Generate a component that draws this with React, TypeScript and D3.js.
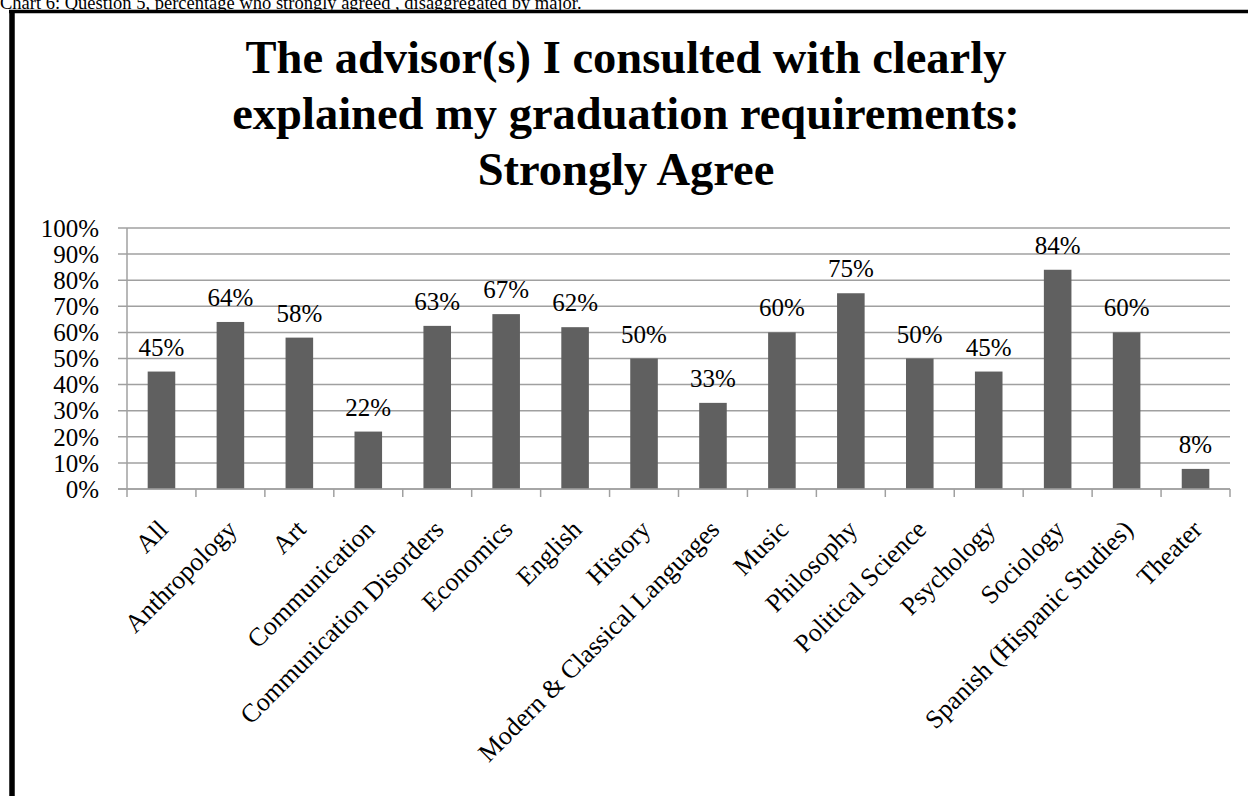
import * as d3 from "d3";

const W = 1248;
const H = 796;

const majors = [
  "All",
  "Anthropology",
  "Art",
  "Communication",
  "Communication Disorders",
  "Economics",
  "English",
  "History",
  "Modern & Classical Languages",
  "Music",
  "Philosophy",
  "Political Science",
  "Psychology",
  "Sociology",
  "Spanish (Hispanic Studies)",
  "Theater",
];

// percent who strongly agreed
const strongAgree = [45, 64, 58, 22, 62.5, 67, 62, 50, 33, 60, 75, 50, 45, 84, 60, 7.7];

const yTicks = [0, 10, 20, 30, 40, 50, 60, 70, 80, 90, 100];

const titleLines = [
  "The advisor(s) I consulted with clearly",
  "explained my graduation requirements:",
  "Strongly Agree",
];

const caption = "Chart 6: Question 5, percentage who strongly agreed , disaggregated by major.";

const FONT = "'Liberation Serif', 'Times New Roman', serif";

export default function App() {
  const plot = { left: 127, right: 1230, top: 228, bottom: 489 };

  const x = d3.scaleBand<string>()
    .domain(majors)
    .range([plot.left, plot.right])
    .paddingInner(0)
    .paddingOuter(0);

  const y = d3.scaleLinear()
    .domain([0, 100])
    .range([plot.bottom, plot.top]);

  const barW = x.bandwidth() / 2.5;
  const gridColor = "#a0a0a0";

  const bars = majors.map((m, i) => {
    const v = strongAgree[i];
    const cx = (x(m) ?? 0) + x.bandwidth() / 2;
    return (
      <g key={m}>
        <rect
          x={cx - barW / 2}
          y={y(v)}
          width={barW}
          height={y(0) - y(v)}
          fill="#606060"
        />
        <text
          x={cx}
          y={y(v) - 16}
          textAnchor="middle"
          fontSize={25}
          fill="#000"
        >
          {`${Math.round(v)}%`}
        </text>
      </g>
    );
  });

  const bandEdges = majors.map((m) => x(m) ?? 0).concat([plot.right]);

  return (
    <svg
      width={W}
      height={H}
      viewBox={`0 0 ${W} ${H}`}
      style={{ position: "absolute", left: 0, top: 0, background: "#fff" }}
      fontFamily={FONT}
    >
      <rect x={0} y={0} width={W} height={H} fill="#fff" />
      <text x={0} y={8.5} fontSize={18.5} fill="#000">{caption}</text>

      {/* chart frame, cut off at right and bottom */}
      <line x1={9} x2={W} y1={11.5} y2={11.5} stroke="#000" strokeWidth={3.5} />
      <line x1={12} x2={12} y1={10} y2={H} stroke="#000" strokeWidth={5.5} />

      {titleLines.map((t, i) => (
        <text
          key={t}
          x={626}
          y={73 + i * 56}
          textAnchor="middle"
          fontSize={46.5}
          fontWeight="bold"
          fill="#000"
        >
          {t}
        </text>
      ))}

      {/* gridlines + y ticks */}
      {yTicks.map((t) => (
        <g key={t}>
          <line
            x1={plot.left - 9}
            x2={plot.right}
            y1={y(t)}
            y2={y(t)}
            stroke={gridColor}
            strokeWidth={1.5}
          />
          <text
            x={99}
            y={y(t)}
            dy="0.35em"
            textAnchor="end"
            fontSize={25}
            fill="#000"
          >
            {`${t}%`}
          </text>
        </g>
      ))}

      <line x1={plot.left} x2={plot.left} y1={plot.top} y2={plot.bottom} stroke={gridColor} strokeWidth={1.5} />

      {bars}

      {/* x axis */}
      <line x1={plot.left - 9} x2={plot.right} y1={plot.bottom} y2={plot.bottom} stroke={gridColor} strokeWidth={1.5} />
      {bandEdges.map((ex, i) => (
        <line key={i} x1={ex} x2={ex} y1={plot.bottom} y2={plot.bottom + 8} stroke={gridColor} strokeWidth={1.5} />
      ))}

      {majors.map((m) => {
        const cx = (x(m) ?? 0) + x.bandwidth() / 2;
        return (
          <text
            key={m}
            transform={`translate(${cx + 8},${plot.bottom + 42}) rotate(-45)`}
            textAnchor="end"
            fontSize={26}
            fill="#000"
          >
            {m}
          </text>
        );
      })}
    </svg>
  );
}
